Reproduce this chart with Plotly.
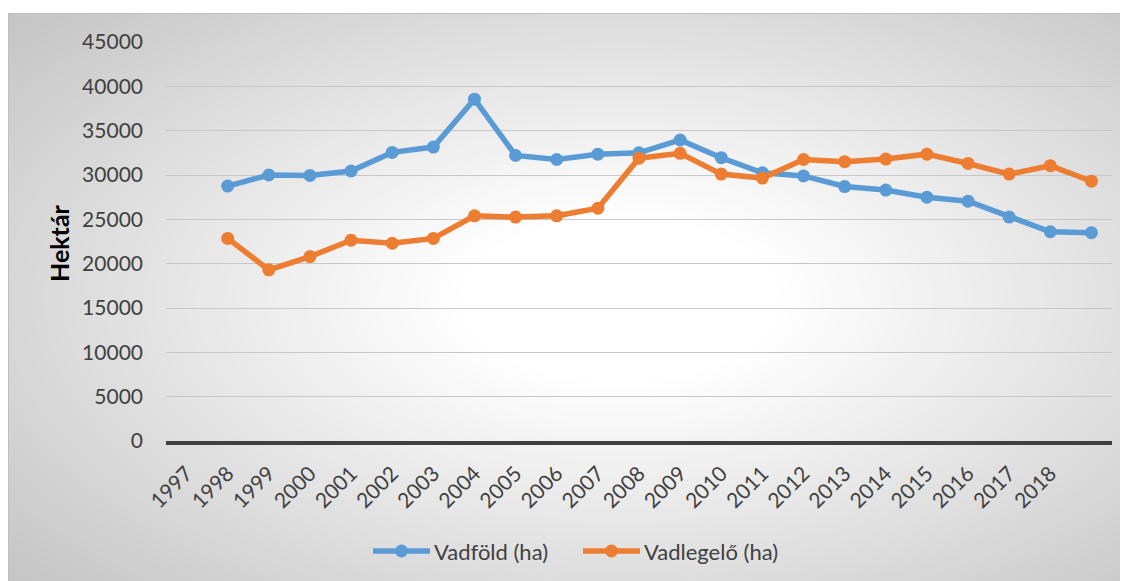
import plotly.graph_objects as go

years = [str(y) for y in range(1997, 2019)]
vadfold = [28750, 30000, 29950, 30450, 32550, 33150, 38550, 32200, 31750, 32350, 32500,
           33950, 31950, 30250, 29900, 28700, 28300, 27500, 27050, 25250, 23600, 23500]
vadlegelo = [22850, 19300, 20800, 22650, 22300, 22850, 25400, 25250, 25400, 26250, 31900,
             32450, 30100, 29650, 31750, 31500, 31800, 32350, 31300, 30100, 31050, 29300]
series_names = ["Vadföld (ha)", "Vadlegelő (ha)"]
series_colors = ["#5B9BD5", "#ED7D31"]

# the page body adds an 8px margin; the figure is sized to fill the rest
OFF = 8
W, H = 1128 - OFF, 581 - OFF
PL, PT, PR, PB = 166, 42, 1112, 441           # plot area in page pixels
L, T = PL - OFF, PT - OFF
R, B = W - (PR - OFF), H - (PB - OFF)
PW, PH = PR - PL, PB - PT

def px_x(px):
    return (px - PL) / PW

def px_y(py):
    return (PB - py) / PH

FONT = "Lato"
TXT = "#404040"

fig = go.Figure()
# points sit one category to the right of their labels, as in the original
xpos = [i + 1 for i in range(len(years))]
for name, vals, col in zip(series_names, [vadfold, vadlegelo], series_colors):
    fig.add_trace(go.Scatter(
        x=xpos, y=vals, name=name, mode="lines+markers",
        line=dict(color=col, width=5.5),
        marker=dict(color=col, size=13),
        showlegend=False,
    ))

shapes = []
# radial gradient background (concentric ellipses)
cx, cy, a, b = 620, 300, 560, 290
N = 80
rmax, rmin = 1.7, 0.25
for k in range(N + 1):
    r = rmax - (rmax - rmin) * k / N
    t = min(1.0, max(0.0, (r - 0.28) / 1.2))
    g = int(round(255 - (255 - 196) * t))
    shapes.append(dict(
        type="circle", xref="paper", yref="paper", layer="below",
        x0=px_x(cx - r * a), x1=px_x(cx + r * a),
        y0=px_y(cy + r * b), y1=px_y(cy - r * b),
        fillcolor=f"rgb({g},{g},{g})", line=dict(width=0),
    ))
# white above the chart box
shapes.append(dict(type="rect", xref="paper", yref="paper", layer="below",
                   x0=px_x(-5), x1=px_x(1140), y0=px_y(13), y1=px_y(-5),
                   fillcolor="white", line=dict(width=0)))
# chart frame
shapes.append(dict(type="rect", xref="paper", yref="paper", layer="below",
                   x0=px_x(8.5), x1=px_x(1140), y0=px_y(600), y1=px_y(13.5),
                   line=dict(color="#bfbfbf", width=1)))

# custom legend (long line samples like the original)
annotations = []
leg_y = 551
leg_items = [(373, 430, 432), (583, 640, 642)]
for (x0, x1, xt), name, col in zip(leg_items, series_names, series_colors):
    shapes.append(dict(type="line", xref="paper", yref="paper",
                       x0=px_x(x0), x1=px_x(x1), y0=px_y(leg_y), y1=px_y(leg_y),
                       line=dict(color=col, width=5.5)))
    xm = (x0 + x1) / 2
    shapes.append(dict(type="circle", xref="paper", yref="paper",
                       x0=px_x(xm - 6.5), x1=px_x(xm + 6.5),
                       y0=px_y(leg_y + 6.5), y1=px_y(leg_y - 6.5),
                       fillcolor=col, line=dict(width=0)))
    annotations.append(dict(text=name, x=px_x(xt), y=px_y(leg_y), xref="paper", yref="paper",
                            xanchor="left", yanchor="middle", showarrow=False,
                            font=dict(family=FONT, size=22, color=TXT)))

annotations.append(dict(text="<b>Hektár</b>", x=px_x(59), y=px_y(243), xref="paper", yref="paper",
                        xanchor="center", yanchor="middle",
                        textangle=-90, showarrow=False,
                        font=dict(family=FONT, size=25, color="black")))

fig.update_layout(
    width=W, height=H,
    margin=dict(l=L, r=R, t=T, b=B),
    paper_bgcolor="white",
    plot_bgcolor="rgba(0,0,0,0)",
    font=dict(family=FONT, size=21, color=TXT),
    shapes=shapes,
    annotations=annotations,
    showlegend=False,
)
fig.update_xaxes(
    range=[-0.5, len(years) + 0.5],
    tickmode="array", tickvals=list(range(len(years))), ticktext=years,
    tickangle=-45, showgrid=False, zeroline=False,
    showline=True, linecolor="#404040", linewidth=4,
    ticks="", ticklabelstandoff=8,
    tickfont=dict(family=FONT, size=21, color=TXT),
)
fig.update_yaxes(
    range=[0, 45000], dtick=5000, tickformat="d",
    showgrid=True, gridcolor="#c8c8c8", gridwidth=1.3,
    zeroline=False, showline=False, ticks="",
    ticklabelstandoff=22,
    tickfont=dict(family=FONT, size=21, color=TXT),
)
fig.write_html("out.html")
